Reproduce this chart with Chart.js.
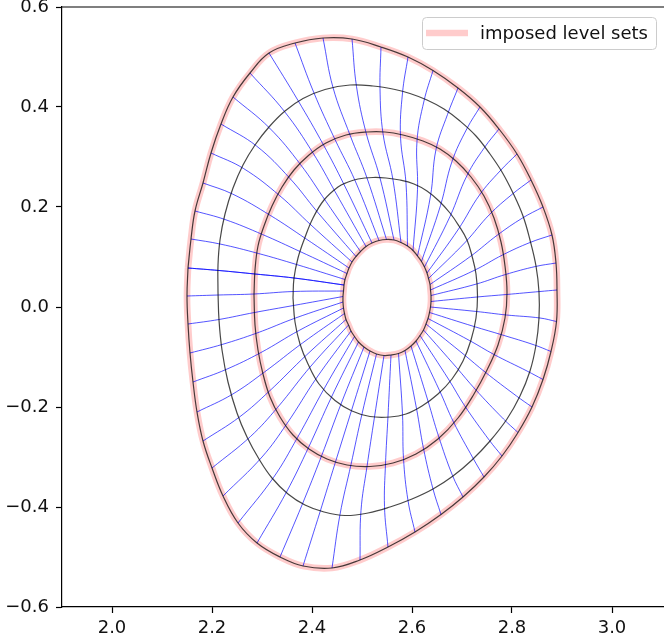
<!DOCTYPE html>
<html><head><meta charset="utf-8">
<script src="https://cdn.jsdelivr.net/npm/chart.js@4.4.1/dist/chart.umd.min.js"></script>
<style>html,body{margin:0;padding:0;background:#fff}#c{display:block}</style>
</head><body>
<canvas id="c" width="664" height="642"></canvas>
<script>
// ---- data ----
// innermost imposed level set (also the inner end of every grid line)
const surfR1=[2.464,2.463,2.462,2.462,2.463,2.465,2.468,2.473,2.478,2.485,2.493,2.504,2.516,2.529,2.544,2.558,2.573,2.586,2.598,2.608,2.616,2.623,2.628,2.632,2.635,2.637,2.638,2.638,2.637,2.636,2.633,2.630,2.625,2.619,2.611,2.602,2.591,2.578,2.564,2.549,2.534,2.520,2.508,2.497,2.488,2.480,2.474,2.470,2.466];
const surfZ1=[0.044,0.032,0.021,0.010,-0.002,-0.013,-0.025,-0.036,-0.048,-0.059,-0.070,-0.080,-0.088,-0.094,-0.097,-0.096,-0.093,-0.087,-0.078,-0.068,-0.057,-0.046,-0.034,-0.023,-0.011,0.000,0.011,0.023,0.034,0.045,0.057,0.068,0.080,0.091,0.102,0.113,0.122,0.129,0.134,0.135,0.133,0.128,0.121,0.111,0.101,0.090,0.078,0.067,0.055];
// outermost imposed level set (also the outer end of every grid line)
const surfR5=[2.152,2.150,2.152,2.156,2.162,2.170,2.182,2.200,2.222,2.252,2.290,2.336,2.382,2.440,2.496,2.552,2.606,2.658,2.702,2.744,2.780,2.812,2.840,2.862,2.878,2.889,2.890,2.888,2.880,2.862,2.838,2.810,2.774,2.736,2.692,2.642,2.592,2.538,2.480,2.422,2.366,2.314,2.276,2.242,2.218,2.198,2.182,2.166,2.158];
const surfZ5=[0.078,0.022,-0.034,-0.092,-0.150,-0.210,-0.268,-0.322,-0.378,-0.432,-0.472,-0.500,-0.518,-0.522,-0.506,-0.480,-0.450,-0.415,-0.380,-0.340,-0.298,-0.251,-0.200,-0.145,-0.089,-0.029,0.034,0.088,0.144,0.200,0.254,0.306,0.356,0.400,0.438,0.473,0.500,0.520,0.536,0.538,0.528,0.508,0.468,0.420,0.366,0.308,0.248,0.192,0.136];
// intermediate level-set contours
const contR2=[2.362,2.366,2.376,2.392,2.414,2.446,2.480,2.516,2.556,2.588,2.620,2.652,2.680,2.702,2.718,2.728,2.731,2.728,2.720,2.710,2.694,2.676,2.654,2.630,2.604,2.576,2.548,2.522,2.492,2.470,2.452,2.424,2.402,2.384,2.372,2.364];
const contZ2=[0.018,-0.030,-0.074,-0.114,-0.154,-0.187,-0.208,-0.219,-0.220,-0.214,-0.198,-0.174,-0.144,-0.108,-0.066,-0.022,0.022,0.066,0.102,0.134,0.162,0.188,0.212,0.232,0.246,0.254,0.258,0.259,0.256,0.249,0.240,0.214,0.178,0.134,0.098,0.058];
const contR3=[2.284,2.286,2.292,2.302,2.316,2.336,2.362,2.394,2.430,2.470,2.516,2.562,2.608,2.652,2.692,2.724,2.750,2.772,2.786,2.790,2.786,2.778,2.764,2.744,2.718,2.688,2.656,2.622,2.582,2.546,2.510,2.468,2.428,2.394,2.364,2.340,2.320,2.304,2.292,2.286];
const contZ3=[0.024,-0.036,-0.086,-0.134,-0.180,-0.220,-0.256,-0.284,-0.304,-0.316,-0.319,-0.312,-0.294,-0.264,-0.222,-0.174,-0.126,-0.076,-0.022,0.030,0.082,0.130,0.178,0.222,0.260,0.292,0.316,0.332,0.344,0.350,0.350,0.344,0.328,0.304,0.274,0.240,0.202,0.162,0.122,0.074];
const contR4=[2.212,2.214,2.220,2.232,2.250,2.270,2.294,2.320,2.352,2.386,2.424,2.466,2.512,2.556,2.600,2.642,2.682,2.720,2.756,2.790,2.816,2.836,2.848,2.854,2.854,2.848,2.836,2.822,2.802,2.780,2.756,2.728,2.696,2.664,2.630,2.596,2.566,2.522,2.476,2.426,2.382,2.346,2.314,2.286,2.262,2.242,2.226,2.216,2.212];
const contZ4=[0.030,-0.026,-0.086,-0.150,-0.212,-0.260,-0.304,-0.342,-0.374,-0.396,-0.410,-0.417,-0.412,-0.400,-0.384,-0.364,-0.338,-0.306,-0.268,-0.224,-0.178,-0.128,-0.076,-0.022,0.030,0.082,0.134,0.182,0.228,0.270,0.306,0.342,0.372,0.396,0.414,0.427,0.435,0.442,0.444,0.435,0.417,0.392,0.360,0.324,0.284,0.238,0.186,0.134,0.084];
// grid-line crossings of the intermediate level sets
const nodeR2=[2.364,2.363,2.363,2.367,2.374,2.381,2.389,2.398,2.409,2.425,2.439,2.458,2.479,2.500,2.525,2.552,2.581,2.609,2.632,2.655,2.674,2.689,2.705,2.715,2.724,2.729,2.730,2.729,2.726,2.718,2.707,2.693,2.676,2.657,2.637,2.611,2.588,2.562,2.536,2.510,2.486,2.464,2.446,2.428,2.410,2.398,2.387,2.376,2.369];
const nodeZ2=[0.058,0.031,0.003,-0.022,-0.047,-0.072,-0.096,-0.118,-0.142,-0.162,-0.180,-0.194,-0.207,-0.214,-0.220,-0.218,-0.215,-0.203,-0.188,-0.167,-0.146,-0.121,-0.096,-0.067,-0.039,-0.009,0.020,0.046,0.074,0.102,0.130,0.156,0.181,0.203,0.222,0.235,0.247,0.254,0.258,0.258,0.253,0.245,0.231,0.211,0.191,0.164,0.137,0.111,0.085];
const nodeR3=[2.286,2.284,2.285,2.290,2.298,2.305,2.315,2.331,2.350,2.371,2.393,2.419,2.446,2.478,2.510,2.547,2.583,2.623,2.653,2.683,2.705,2.726,2.746,2.764,2.781,2.789,2.789,2.787,2.781,2.771,2.755,2.735,2.710,2.680,2.648,2.610,2.577,2.542,2.508,2.476,2.446,2.423,2.402,2.377,2.356,2.335,2.317,2.301,2.293];
const nodeZ3=[0.066,0.026,-0.011,-0.052,-0.091,-0.130,-0.168,-0.201,-0.233,-0.261,-0.281,-0.298,-0.313,-0.315,-0.319,-0.314,-0.303,-0.283,-0.258,-0.230,-0.197,-0.164,-0.130,-0.095,-0.056,-0.016,0.025,0.065,0.104,0.144,0.185,0.224,0.263,0.291,0.315,0.332,0.341,0.347,0.349,0.344,0.335,0.324,0.308,0.285,0.257,0.223,0.183,0.145,0.107];
const nodeR4=[2.214,2.213,2.214,2.220,2.228,2.240,2.255,2.277,2.300,2.323,2.349,2.380,2.416,2.456,2.498,2.545,2.592,2.642,2.681,2.723,2.755,2.783,2.809,2.830,2.845,2.856,2.856,2.847,2.836,2.821,2.801,2.776,2.745,2.710,2.671,2.624,2.581,2.536,2.489,2.442,2.404,2.372,2.345,2.315,2.289,2.263,2.241,2.226,2.216];
const nodeZ4=[0.073,0.024,-0.025,-0.075,-0.125,-0.175,-0.220,-0.259,-0.300,-0.341,-0.370,-0.396,-0.410,-0.415,-0.407,-0.399,-0.387,-0.364,-0.337,-0.304,-0.267,-0.224,-0.178,-0.128,-0.076,-0.022,0.031,0.081,0.129,0.178,0.226,0.272,0.319,0.357,0.385,0.412,0.428,0.437,0.441,0.439,0.428,0.413,0.391,0.358,0.322,0.277,0.226,0.175,0.126];
const xTicks=[2.0,2.2,2.4,2.6,2.8,3.0];
const yTicks=[-0.6,-0.4,-0.2,0.0,0.2,0.4,0.6];
const legendLabel='imposed level sets';

// ---- chart ----
const FONT='"DejaVu Sans", sans-serif';
const PINK='rgba(255,0,0,0.2)';
const levelSets=[[surfR1,surfZ1],[contR2,contZ2],[contR3,contZ3],[contR4,contZ4],[surfR5,surfZ5]];
const imposed=[0,2,4];
const gridNodes=[[surfR1,surfZ1],[nodeR2,nodeZ2],[nodeR3,nodeZ3],[nodeR4,nodeZ4],[surfR5,surfZ5]];

function closedPts(s){const p=s[0].map((r,i)=>({x:r,y:s[1][i]}));p.push(p[0]);return p;}
const datasets=[];
imposed.forEach(i=>datasets.push({data:closedPts(levelSets[i]),borderColor:PINK,borderWidth:6.7,tension:0.4,order:3}));
levelSets.forEach(s=>datasets.push({data:closedPts(s),borderColor:'rgba(0,0,0,0.72)',borderWidth:1.2,tension:0.4,order:1}));
const nTheta=surfR1.length;
for(let k=0;k<=nTheta;k++){
  const j=k%nTheta;
  datasets.push({data:gridNodes.map(s=>({x:s[0][j],y:s[1][j]})),borderColor:'rgba(0,0,255,0.75)',borderWidth:0.9,tension:0.4,order:2});
}
datasets.forEach(d=>{d.showLine=true;d.pointRadius=0;d.pointHoverRadius=0;d.fill=false;});

const fmt=v=>(v<0?'\u2212':'')+Math.abs(v).toFixed(1);

const frame={id:'frame',afterDraw(chart){
  const ctx=chart.ctx,a=chart.chartArea;
  ctx.save();
  ctx.strokeStyle='#000';ctx.lineWidth=1.2;
  ctx.beginPath();ctx.moveTo(a.left,a.top);ctx.lineTo(a.right,a.top);ctx.stroke();
  ctx.font='18px '+FONT;
  const tw=ctx.measureText(legendLabel).width;
  const right=a.right-8, top=a.top+10, h=32;
  const w=4+42+12+tw+8, left=right-w;
  ctx.beginPath();
  if(ctx.roundRect){ctx.roundRect(left+0.5,top+0.5,w,h,4);}else{ctx.rect(left+0.5,top+0.5,w,h);}
  ctx.fillStyle='rgba(255,255,255,0.8)';ctx.fill();
  ctx.strokeStyle='#cccccc';ctx.lineWidth=1;ctx.stroke();
  ctx.strokeStyle=PINK;ctx.lineWidth=6.7;ctx.lineCap='butt';
  ctx.beginPath();ctx.moveTo(left+4,top+h/2);ctx.lineTo(left+46,top+h/2);ctx.stroke();
  ctx.fillStyle='#111';ctx.textBaseline='middle';ctx.textAlign='left';
  ctx.fillText(legendLabel,left+58,top+h/2+1);
  ctx.restore();
}};

new Chart(document.getElementById('c'),{
  type:'scatter',
  data:{datasets},
  options:{
    responsive:false,animation:false,devicePixelRatio:1,
    layout:{padding:{top:7,right:0,left:0,bottom:0}},
    plugins:{legend:{display:false},tooltip:{enabled:false}},
    events:[],
    scales:{
      x:{type:'linear',min:1.9,max:3.104,
        afterBuildTicks:s=>{s.ticks=xTicks.map(v=>({value:v}));},
        afterFit:s=>{s.height=35;s.paddingLeft=0;s.paddingRight=0;},
        ticks:{callback:fmt,font:{family:FONT,size:18},color:'#111',padding:5,maxRotation:0,autoSkip:false},
        grid:{drawOnChartArea:false,drawTicks:true,tickLength:6,tickColor:'#000',tickWidth:1.2},
        border:{display:true,color:'#000',width:1.2}},
      y:{type:'linear',min:-0.6,max:0.6,
        afterBuildTicks:s=>{s.ticks=yTicks.map(v=>({value:v}));},
        afterFit:s=>{s.width=62;s.paddingTop=0;s.paddingBottom=0;},
        ticks:{callback:fmt,font:{family:FONT,size:18},color:'#111',padding:7,autoSkip:false},
        grid:{drawOnChartArea:false,drawTicks:true,tickLength:6,tickColor:'#000',tickWidth:1.2},
        border:{display:true,color:'#000',width:1.2}}
    }
  },
  plugins:[frame]
});
</script>
</body></html>
